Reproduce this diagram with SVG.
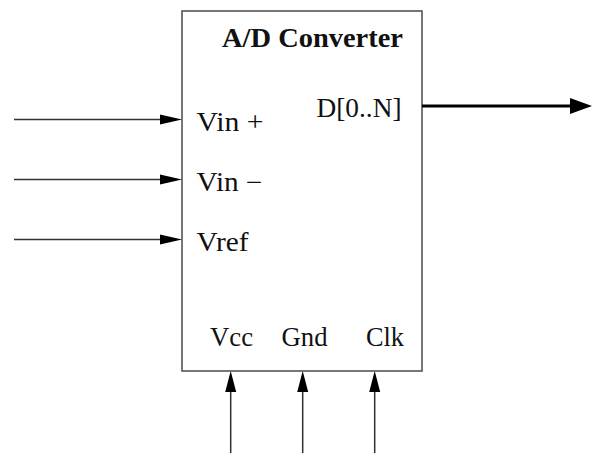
<svg xmlns="http://www.w3.org/2000/svg" width="592" height="453" viewBox="0 0 592 453">
<style>
  .lbl { font-family: "Liberation Serif", "Times New Roman", serif; font-size: 26.5px; fill: #111; }
  .ttl { font-family: "Liberation Serif", "Times New Roman", serif; font-size: 27px; font-weight: bold; fill: #111; }
  .thin { stroke: #333; stroke-width: 1.5; fill: none; }
  .thick { stroke: #000; stroke-width: 3.2; fill: none; }
  .head { fill: #000; }
</style>
<rect width="592" height="453" fill="#fff"/>
<g id="converter">
  <rect x="182" y="11" width="240" height="360" fill="#fff" stroke="#555" stroke-width="1.6"/>
  <text class="ttl" x="222" y="47" textLength="181" lengthAdjust="spacingAndGlyphs">A/D Converter</text>
  <text class="lbl" x="316.5" y="117" textLength="85" lengthAdjust="spacingAndGlyphs">D[0..N]</text>
  <text class="lbl" x="196.5" y="131" textLength="67" lengthAdjust="spacingAndGlyphs">Vin +</text>
  <text class="lbl" x="196.5" y="191" textLength="66" lengthAdjust="spacingAndGlyphs">Vin −</text>
  <text class="lbl" x="196.5" y="251" textLength="52" lengthAdjust="spacingAndGlyphs">Vref</text>
  <text class="lbl" x="210" y="346" textLength="43" lengthAdjust="spacingAndGlyphs">Vcc</text>
  <text class="lbl" x="281.5" y="346" textLength="46" lengthAdjust="spacingAndGlyphs">Gnd</text>
  <text class="lbl" x="366" y="346" textLength="38" lengthAdjust="spacingAndGlyphs">Clk</text>
</g>
<g id="connectors">
  <line class="thin" x1="14" y1="119.5" x2="162" y2="119.5"/>
  <polygon class="head" points="160,114.5 182,119.5 160,124.5"/>
  <line class="thin" x1="14" y1="179.5" x2="162" y2="179.5"/>
  <polygon class="head" points="160,174.5 182,179.5 160,184.5"/>
  <line class="thin" x1="14" y1="239.5" x2="162" y2="239.5"/>
  <polygon class="head" points="160,234.5 182,239.5 160,244.5"/>
  <line class="thick" x1="422" y1="106" x2="572" y2="106"/>
  <polygon class="head" points="570,98 592,106 570,114"/>
  <line class="thin" x1="230.7" y1="453" x2="230.7" y2="390"/>
  <polygon class="head" points="225.2,392 230.7,371 236.2,392"/>
  <line class="thin" x1="302.7" y1="453" x2="302.7" y2="390"/>
  <polygon class="head" points="297.2,392 302.7,371 308.2,392"/>
  <line class="thin" x1="374.7" y1="453" x2="374.7" y2="390"/>
  <polygon class="head" points="369.2,392 374.7,371 380.2,392"/>
</g>
</svg>
